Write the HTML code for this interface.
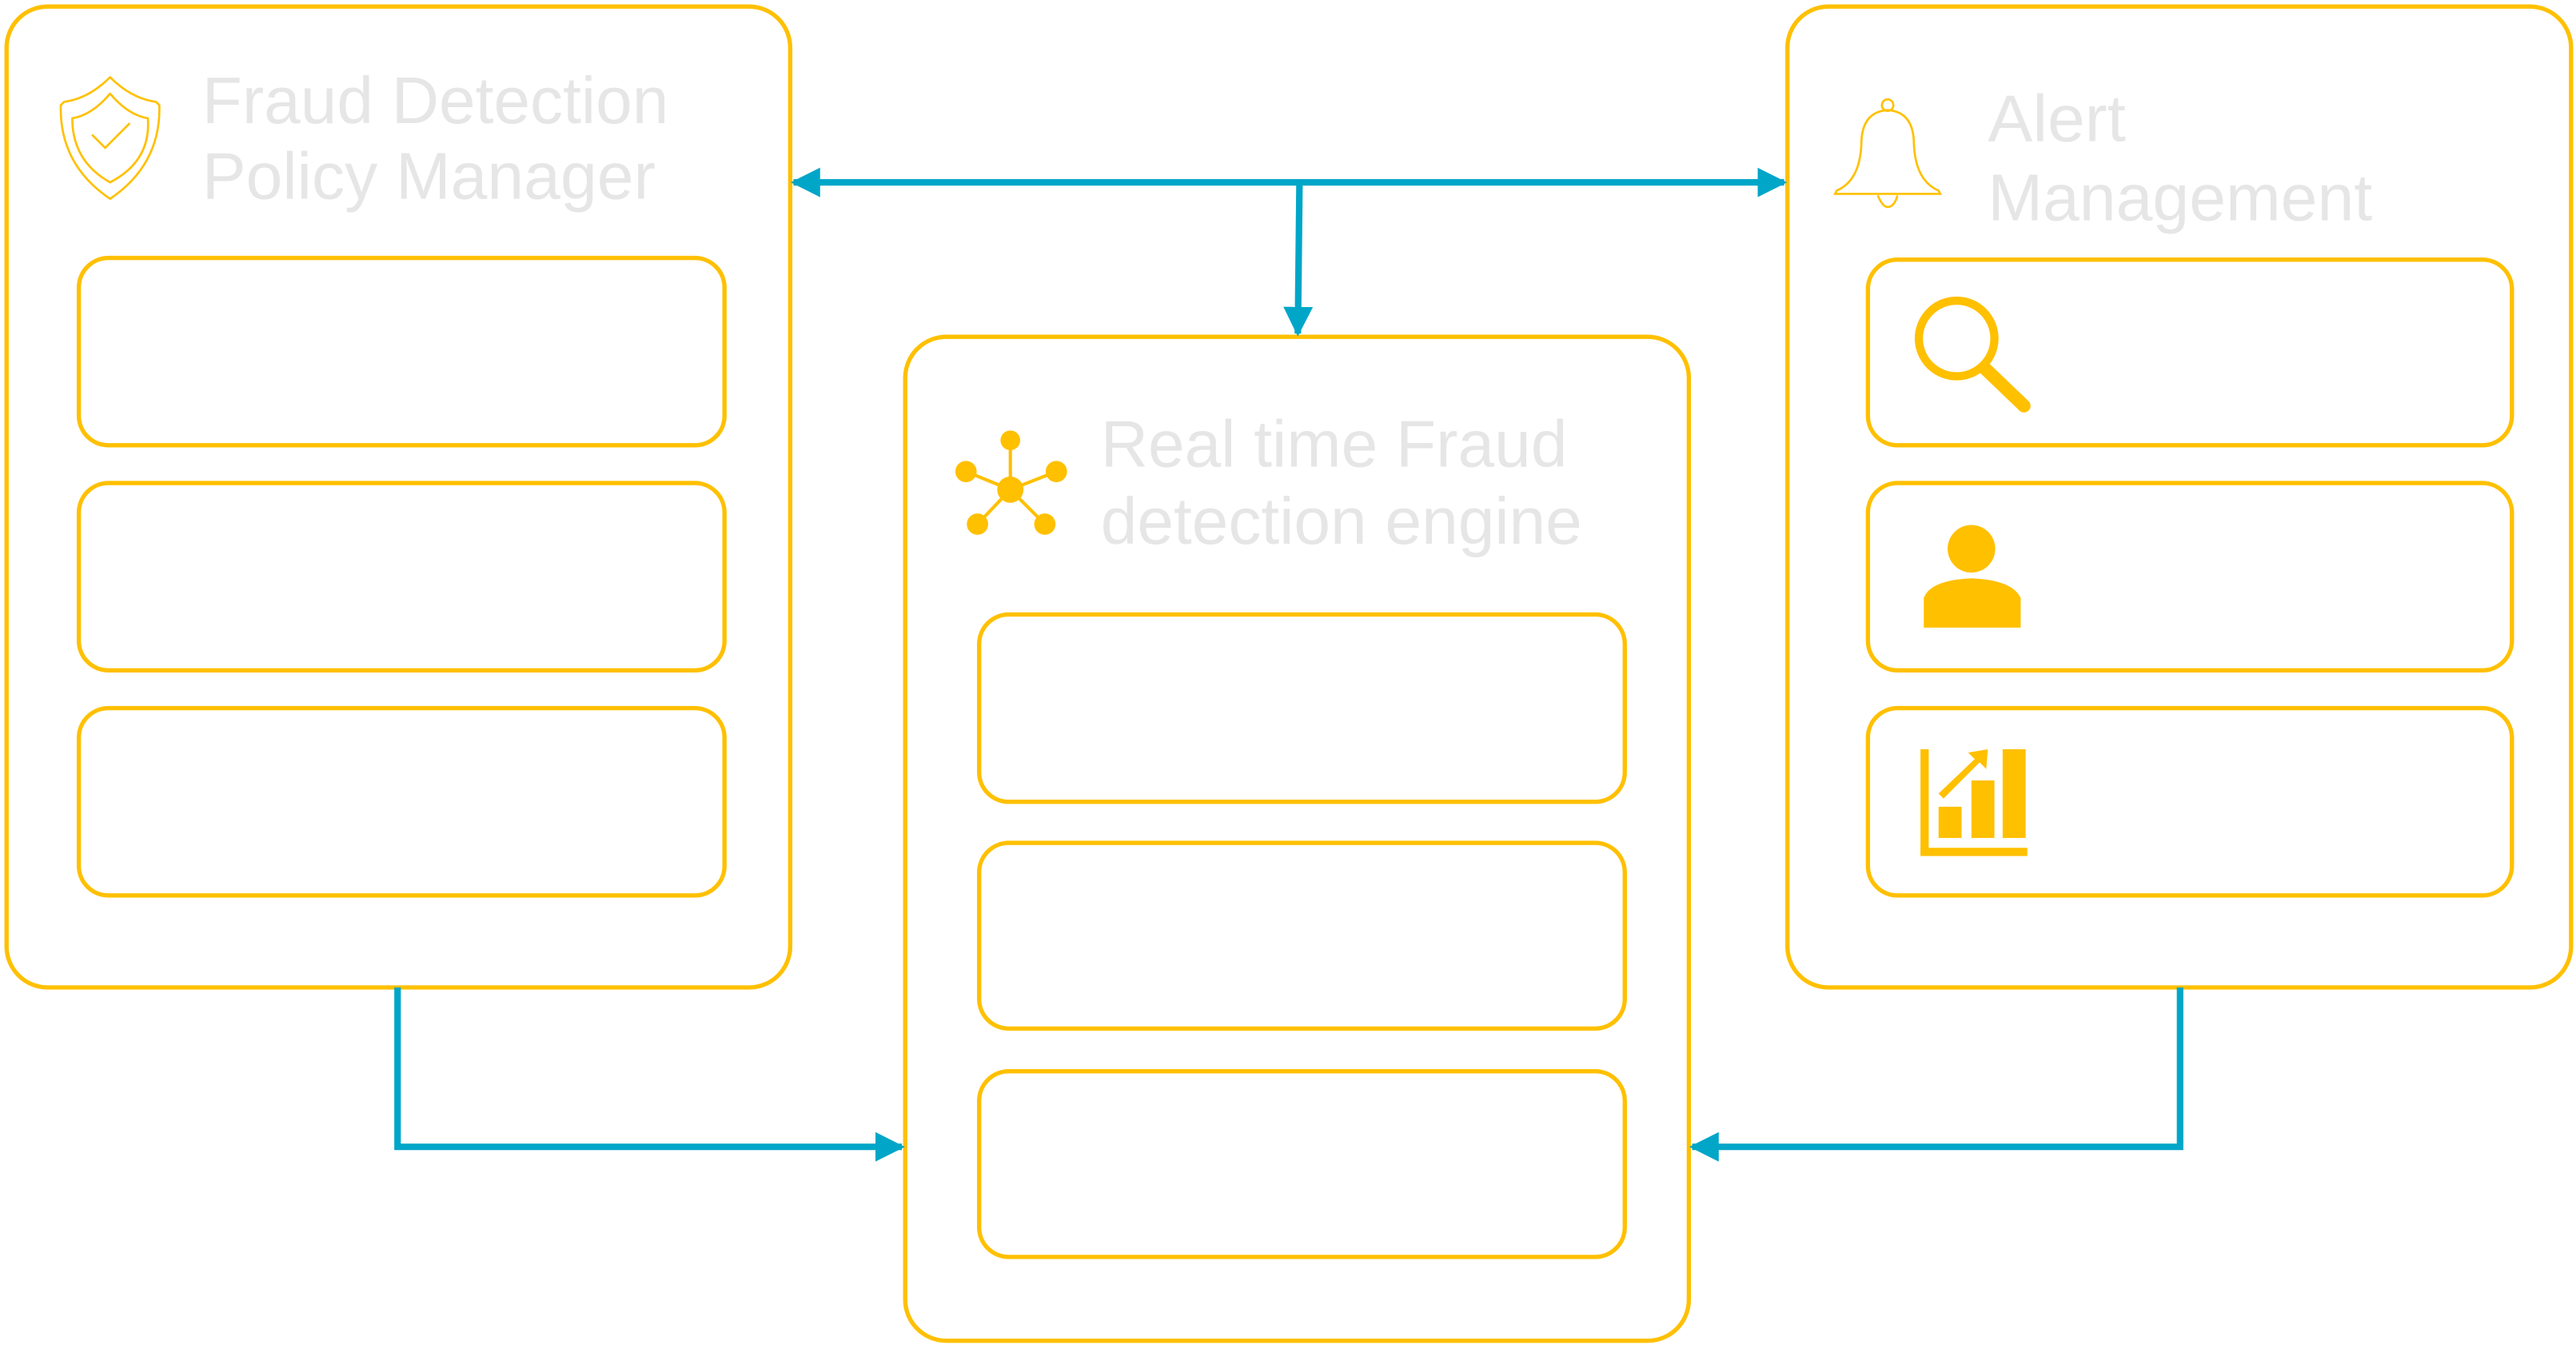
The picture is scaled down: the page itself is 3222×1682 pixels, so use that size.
<!DOCTYPE html>
<html><head><meta charset="utf-8"><style>
html,body{margin:0;padding:0;background:#fff;}
svg{display:block;}
text{font-family:"Liberation Sans",Arial,sans-serif;fill:#E6E6E6;font-size:40px;}
</style></head><body>
<svg width="3222" height="1682" viewBox="0 0 1568 818.6" preserveAspectRatio="none" xmlns="http://www.w3.org/2000/svg">
<defs>
<marker id="ah" viewBox="0 0 10 10" refX="9" refY="5" markerWidth="4.5" markerHeight="4.5" orient="auto-start-reverse" markerUnits="strokeWidth">
<path d="M0,0 L10,5 L0,10 z" fill="#00A6C8"/></marker>
</defs>
<g fill="none" stroke="#FFC000" stroke-width="2.6">
<rect x="4" y="4" width="477" height="597" rx="25"/>
<rect x="48" y="157" width="393" height="114" rx="18"/>
<rect x="48" y="294" width="393" height="114" rx="18"/>
<rect x="48" y="431" width="393" height="114" rx="18"/>
<rect x="551" y="205" width="477" height="611" rx="25"/>
<rect x="596" y="374" width="393" height="114" rx="18"/>
<rect x="596" y="513" width="393" height="113" rx="18"/>
<rect x="596" y="652" width="393" height="113" rx="18"/>
<rect x="1088" y="4" width="477" height="597" rx="25"/>
<rect x="1137" y="158" width="392" height="113" rx="18"/>
<rect x="1137" y="294" width="392" height="114" rx="18"/>
<rect x="1137" y="431" width="392" height="114" rx="18"/>
</g>
<g fill="none" stroke="#00A6C8" stroke-width="4">
<line x1="483" y1="111" x2="1086" y2="111" marker-start="url(#ah)" marker-end="url(#ah)"/>
<polyline points="791,111 790,203" marker-end="url(#ah)"/>
<polyline points="242,601 242,698 549,698" marker-end="url(#ah)"/>
<polyline points="1327,601 1327,698 1030,698" marker-end="url(#ah)"/>
</g>
<text x="123" y="75" textLength="284" lengthAdjust="spacingAndGlyphs">Fraud Detection</text>
<text x="123" y="121" textLength="276" lengthAdjust="spacingAndGlyphs">Policy Manager</text>
<text x="670" y="284" textLength="284" lengthAdjust="spacingAndGlyphs">Real time Fraud</text>
<text x="670" y="331" textLength="293" lengthAdjust="spacingAndGlyphs">detection engine</text>
<text x="1210" y="86" textLength="84" lengthAdjust="spacingAndGlyphs">Alert</text>
<text x="1210" y="134" textLength="234" lengthAdjust="spacingAndGlyphs">Management</text>
<!-- shield -->
<g fill="none" stroke="#FFC000" stroke-width="1.3" stroke-linejoin="round">
<path d="M67,47 Q80,60 95,62 L97,64 Q98,100 67,121 Q36,100 37,64 L39,62 Q54,60 67,47 Z"/>
<path d="M67,57 Q78,70 90,72 Q92,98 67,111 Q44,98 44,72 Q56,70 67,57 Z"/>
<path d="M56,82 L64,90 L79,75"/>
</g>
<!-- bell -->
<g fill="none" stroke="#FFC000" stroke-width="1.3">
<circle cx="1149" cy="64" r="3.5"/>
<path d="M1149,67 Q1133,68 1133,88 Q1132,110 1118,116 L1117,118 L1181,118 L1180,116 Q1166,110 1165,88 Q1165,68 1149,67 Z"/>
<path d="M1143,119 Q1146,126 1149,126 Q1153,126 1155,119"/>
</g>
<!-- magnifier -->
<g stroke="#FFC000" fill="none">
<circle cx="1191" cy="206" r="23" stroke-width="5"/>
<line x1="1208" y1="224" x2="1232" y2="247" stroke-width="8" stroke-linecap="round"/>
</g>
<!-- person -->
<g fill="#FFC000">
<circle cx="1200" cy="334" r="14.5"/>
<path d="M1171,364 Q1175,353 1200,352 Q1225,353 1230,364 L1230,382 L1171,382 Z"/>
</g>
<!-- chart -->
<g fill="#FFC000">
<rect x="1169" y="456" width="5" height="65"/>
<rect x="1169" y="516" width="65" height="5"/>
<rect x="1180" y="491" width="14" height="19"/>
<rect x="1200" y="475" width="14" height="35"/>
<rect x="1219" y="456" width="14" height="54"/>
<path d="M1180,483 L1202,462 L1198,458 L1210,456 L1209,468 L1205,464 L1183,486 Z"/>
</g>
<!-- network -->
<g stroke="#FFC000" stroke-width="2" fill="#FFC000">
<line x1="615" y1="298" x2="615" y2="268"/>
<line x1="615" y1="298" x2="588" y2="287"/>
<line x1="615" y1="298" x2="643" y2="287"/>
<line x1="615" y1="298" x2="595" y2="319"/>
<line x1="615" y1="298" x2="636" y2="319"/>
<circle cx="615" cy="298" r="8" stroke="none"/>
<circle cx="615" cy="268" r="6" stroke="none"/>
<circle cx="588" cy="287" r="6.5" stroke="none"/>
<circle cx="643" cy="287" r="6.5" stroke="none"/>
<circle cx="595" cy="319" r="6.5" stroke="none"/>
<circle cx="636" cy="319" r="6.5" stroke="none"/>
</g>
</svg>
</body></html>
